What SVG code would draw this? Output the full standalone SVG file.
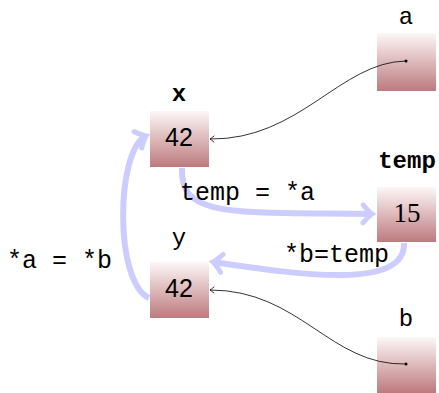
<svg xmlns="http://www.w3.org/2000/svg" width="439" height="393" viewBox="0 0 439 393">
<defs>
<linearGradient id="g" x1="0" y1="0" x2="0" y2="1">
<stop offset="0" stop-color="#fdf7f7"/>
<stop offset="1" stop-color="#bd7a7e"/>
</linearGradient>
<marker id="big" markerUnits="userSpaceOnUse" markerWidth="30" markerHeight="30" viewBox="-15 -15 30 30" refX="0" refY="0" orient="auto">
<path d="M-9,-9 Q-3,-2 0,0 Q-3,2 -9,9" fill="none" stroke="#ccccff" stroke-width="5" stroke-linecap="round"/>
</marker>
<marker id="small" markerUnits="userSpaceOnUse" markerWidth="12" markerHeight="12" viewBox="-6 -6 12 12" refX="0" refY="0" orient="auto">
<path d="M-4,-3 Q-1,-0.6 0,0 Q-1,0.6 -4,3" fill="none" stroke="#000" stroke-width="0.8" stroke-linecap="round"/>
</marker>
</defs>
<style>
.box{fill:url(#g);}
.lbl{font-family:"Liberation Mono",monospace;font-size:24px;fill:#000;text-anchor:middle;}
.b{font-weight:bold;}
.val{font-family:"Liberation Sans",sans-serif;font-size:25px;fill:#000;text-anchor:middle;}
.ser{font-family:"Liberation Serif",serif;font-size:27px;}
.op{font-family:"Liberation Mono",monospace;font-size:25px;fill:#000;}
.blue{fill:none;stroke:#ccccff;stroke-width:6;marker-end:url(#big);}
.thin{fill:none;stroke:#000;stroke-width:0.8;marker-end:url(#small);}
</style>
<g id="node-x">
<text class="lbl b" x="179" y="101">x</text>
<rect class="box" x="150" y="111" width="59" height="56"/>
<text class="val" x="179" y="146">42</text>
</g>
<g id="node-y">
<text class="lbl" x="179" y="245">y</text>
<rect class="box" x="150" y="262" width="59" height="56"/>
<text class="val" x="179" y="297">42</text>
</g>
<g id="node-a">
<text class="lbl" x="406" y="24">a</text>
<rect class="box" x="377" y="33" width="59" height="58"/>
</g>
<g id="node-temp">
<text class="lbl b" x="407" y="168">temp</text>
<rect class="box" x="377" y="187" width="59" height="55"/>
<text class="val ser" x="407" y="222">15</text>
</g>
<g id="node-b">
<text class="lbl" x="406" y="326">b</text>
<rect class="box" x="377" y="337" width="59" height="56"/>
</g>
<g id="connectors">
<path class="blue" d="M182,168 C180,218 230,212 372,214"/>
<path class="blue" d="M404,243 C406,290 300,275 213,262"/>
<path class="blue" d="M149,298 C114,282 116,150 146,136"/>
<path class="thin" d="M406,61 C340,62 300,140 210,139"/>
<path class="thin" d="M406,364 C330,366 300,290 210,290"/>
<circle cx="406" cy="61" r="1.5" fill="#000"/>
<circle cx="406" cy="364" r="1.5" fill="#000"/>
</g>
<g id="labels">
<text class="op" x="180" y="200">temp = *a</text>
<text class="op" x="284" y="262">*b=temp</text>
<text class="op" x="7" y="268">*a = *b</text>
</g>
</svg>
